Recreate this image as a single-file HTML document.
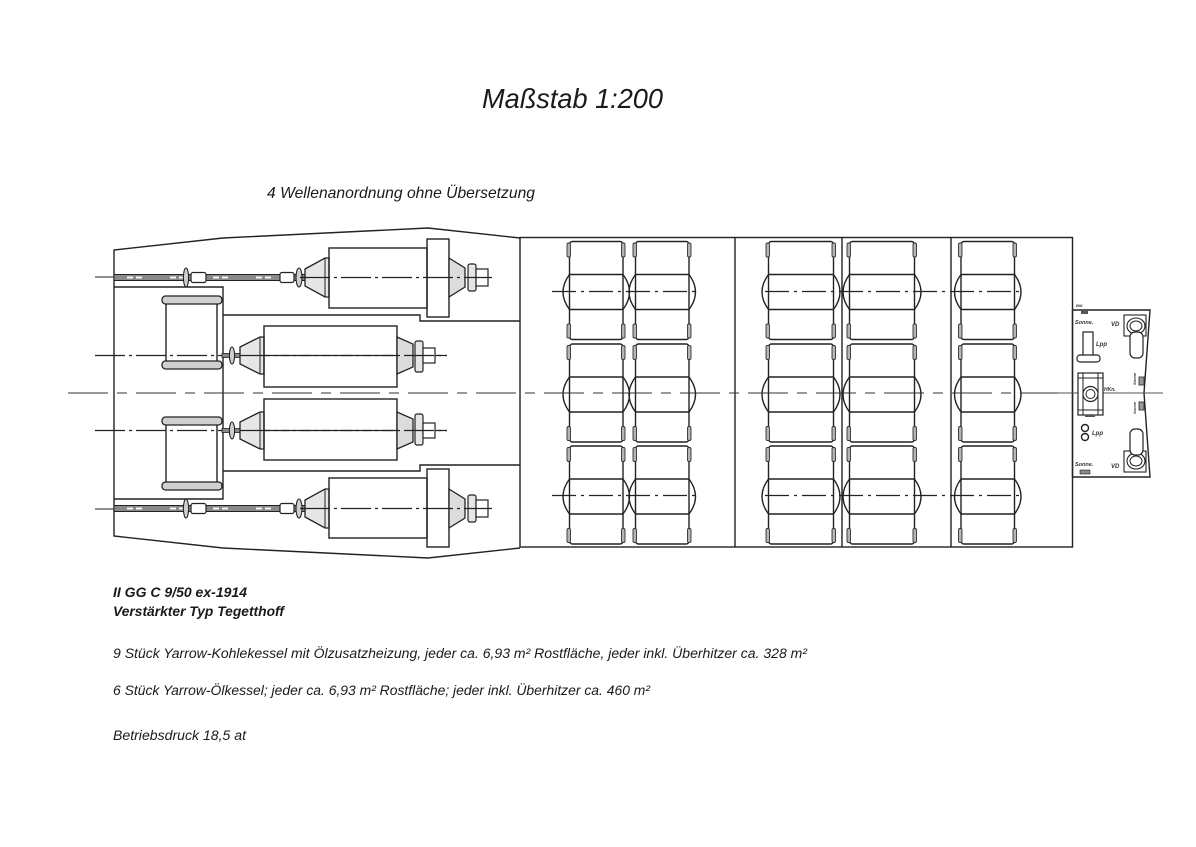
<!DOCTYPE html>
<html>
<head>
<meta charset="utf-8">
<style>
  html,body{margin:0;padding:0;background:#fff;}
  svg{display:block;}
  .ln{fill:none;stroke:#222;stroke-width:1.4;}
  .thin{fill:none;stroke:#222;stroke-width:1;}
  .cl{fill:none;stroke:#333;stroke-width:1.1;stroke-dasharray:40 9 10 9;}
  .sh{fill:none;stroke:#222;stroke-width:1.2;stroke-dasharray:30 4 3 4;}
  .bl{fill:none;stroke:#222;stroke-width:1.3;stroke-dasharray:24 5 3 5;}
  .tab{fill:#b5b5b5;stroke:#333;stroke-width:0.9;}
  .t{font-family:"Liberation Sans",Arial,sans-serif;font-style:italic;fill:#1a1a1a;}
  .tiny{font-family:"Liberation Sans",Arial,sans-serif;font-style:italic;font-weight:bold;fill:#333;}
</style>
</head>
<body>
<svg width="1196" height="847" viewBox="0 0 1196 847" xmlns="http://www.w3.org/2000/svg">
<defs>
  <g id="bn">
    <rect class="ln" x="0" y="0" width="53.5" height="98" rx="3"/>
    <rect class="tab" x="-2.5" y="1.5" width="3.5" height="14" rx="1.5"/>
    <rect class="tab" x="52" y="1.5" width="3.5" height="14" rx="1.5"/>
    <rect class="tab" x="-2.5" y="82.5" width="3.5" height="14" rx="1.5"/>
    <rect class="tab" x="52" y="82.5" width="3.5" height="14" rx="1.5"/>
    <path class="ln" d="M0,33 H53.5 M0,68 H53.5 M0,33 Q-13,50.5 0,68 M53.5,33 Q66.5,50.5 53.5,68"/>
  </g>
  <g id="bw">
    <rect class="ln" x="0" y="0" width="65" height="98" rx="3"/>
    <rect class="tab" x="-2.5" y="1.5" width="3.5" height="14" rx="1.5"/>
    <rect class="tab" x="63.5" y="1.5" width="3.5" height="14" rx="1.5"/>
    <rect class="tab" x="-2.5" y="82.5" width="3.5" height="14" rx="1.5"/>
    <rect class="tab" x="63.5" y="82.5" width="3.5" height="14" rx="1.5"/>
    <path class="ln" d="M0,33 H65 M0,68 H65 M0,33 Q-13,50.5 0,68 M65,33 Q78,50.5 65,68"/>
  </g>
  <g id="hullhalf">
    <path class="ln" d="M114,393 V250 L223,238 L428,228 L520,238"/>
    <path class="ln" d="M114,287 H223 V393"/>
    <path class="ln" d="M223,315 H420 V321 H520"/>
  </g>
  <g id="machhalf">
    <!-- outer shaft -->
    <line class="thin" x1="95" y1="277" x2="114" y2="277"/>
    <rect x="114" y="274.5" width="191" height="6" fill="#8a8a8a" stroke="#222" stroke-width="1"/>
    <line x1="127" y1="277.5" x2="300" y2="277.5" stroke="#fff" stroke-width="1.8" stroke-dasharray="6 3 6 28"/>
    <ellipse cx="186" cy="277.5" rx="2.6" ry="9.5" fill="#cfcfcf" stroke="#222" stroke-width="1.1"/>
    <rect x="191" y="272.5" width="15" height="10" rx="2" fill="#fff" stroke="#222" stroke-width="1.2"/>
    <rect x="280" y="272.5" width="14" height="10" rx="2" fill="#fff" stroke="#222" stroke-width="1.2"/>
    <ellipse cx="299" cy="277.5" rx="3" ry="9.5" fill="#cfcfcf" stroke="#222" stroke-width="1.1"/>
    <polygon points="305,269 325,258 329,258 329,297 325,297 305,286" fill="#e6e6e6" stroke="#222" stroke-width="1.3"/>
    <line class="thin" x1="325" y1="258" x2="325" y2="297"/>
    <rect class="ln" x="329" y="248" width="98" height="60" fill="#fff"/>
    <rect class="ln" x="427" y="239" width="22" height="78" fill="#fff"/>
    <polygon points="449,258 465,268 465,287 449,297" fill="#dcdcdc" stroke="#222" stroke-width="1.3"/>
    <rect x="468" y="264" width="8" height="27" rx="2" fill="#e6e6e6" stroke="#222" stroke-width="1.2"/>
    <rect x="476" y="269" width="12" height="17" fill="#fff" stroke="#222" stroke-width="1.2"/>
    <line class="sh" x1="300" y1="277.5" x2="492" y2="277.5"/>
    <!-- inner shaft -->
    <line class="sh" x1="95" y1="355.5" x2="447" y2="355.5"/>
    <rect x="162" y="296" width="60" height="8" rx="3.5" fill="#d0d0d0" stroke="#222" stroke-width="1.3"/>
    <rect x="162" y="361" width="60" height="8" rx="3.5" fill="#d0d0d0" stroke="#222" stroke-width="1.3"/>
    <line class="ln" x1="166" y1="304" x2="166" y2="361"/>
    <line class="ln" x1="217" y1="304" x2="217" y2="361"/>
    <rect x="222" y="353.5" width="18" height="4" fill="#8a8a8a" stroke="#222" stroke-width="0.8"/>
    <ellipse cx="232" cy="355.5" rx="2.6" ry="8.5" fill="#cfcfcf" stroke="#222" stroke-width="1.1"/>
    <polygon points="240,347 260,337 264,337 264,374 260,374 240,364" fill="#e6e6e6" stroke="#222" stroke-width="1.3"/>
    <line class="thin" x1="260" y1="337" x2="260" y2="374"/>
    <rect class="ln" x="264" y="326" width="133" height="61"/>
    <polygon points="397,337 413,344 413,367 397,374" fill="#dcdcdc" stroke="#222" stroke-width="1.3"/>
    <rect x="415" y="341" width="8" height="31" rx="2" fill="#e6e6e6" stroke="#222" stroke-width="1.2"/>
    <rect x="423" y="348" width="12" height="15" fill="#fff" stroke="#222" stroke-width="1.2"/>
    <line class="sh" x1="240" y1="355.5" x2="447" y2="355.5"/>
  </g>
</defs>

<!-- Titles -->
<text class="t" x="482" y="108" font-size="28" textLength="181" lengthAdjust="spacingAndGlyphs">Maßstab 1:200</text>
<text class="t" x="267" y="198" font-size="16" textLength="268" lengthAdjust="spacingAndGlyphs">4 Wellenanordnung ohne Übersetzung</text>

<!-- Hull & machinery -->
<use href="#hullhalf"/>
<use href="#hullhalf" transform="translate(0,786) scale(1,-1)"/>
<use href="#machhalf"/>
<use href="#machhalf" transform="translate(0,786) scale(1,-1)"/>

<!-- Boiler rooms -->
<rect class="ln" x="520" y="237.5" width="552.5" height="309.5"/>
<line class="ln" x1="735" y1="237.5" x2="735" y2="547"/>
<line class="ln" x1="842" y1="237.5" x2="842" y2="547"/>
<line class="ln" x1="951" y1="237.5" x2="951" y2="547"/>

<use href="#bn" x="569.5" y="241.5"/>
<use href="#bn" x="569.5" y="344"/>
<use href="#bn" x="569.5" y="446"/>
<use href="#bn" x="635.5" y="241.5"/>
<use href="#bn" x="635.5" y="344"/>
<use href="#bn" x="635.5" y="446"/>
<use href="#bw" x="768.5" y="241.5"/>
<use href="#bw" x="768.5" y="344"/>
<use href="#bw" x="768.5" y="446"/>
<use href="#bw" x="849.5" y="241.5"/>
<use href="#bw" x="849.5" y="344"/>
<use href="#bw" x="849.5" y="446"/>
<use href="#bn" x="961" y="241.5"/>
<use href="#bn" x="961" y="344"/>
<use href="#bn" x="961" y="446"/>

<line class="bl" x1="552" y1="291.5" x2="697" y2="291.5"/>
<line class="bl" x1="765" y1="291.5" x2="1022" y2="291.5"/>
<line class="bl" x1="552" y1="495.5" x2="697" y2="495.5"/>
<line class="bl" x1="765" y1="495.5" x2="1022" y2="495.5"/>

<!-- main centerline -->
<line class="cl" x1="68" y1="393" x2="1072" y2="393"/>

<!-- Stern -->
<polygon class="ln" points="1072.5,310 1150,310 1144,393 1150,477 1072.5,477" fill="#fff"/>
<line x1="1058" y1="393" x2="1163" y2="393" stroke="#555" stroke-width="1.1"/>
<rect x="1081" y="311" width="7" height="3" fill="#555"/>
<text class="tiny" x="1076" y="307" font-size="4">Bilt</text>
<text class="tiny" x="1075" y="324" font-size="5.5">Sonne.</text>
<text class="tiny" x="1111" y="326" font-size="6">VD</text>
<rect x="1124" y="315" width="22" height="21" fill="#fff" stroke="#222" stroke-width="1.1"/>
<ellipse cx="1136" cy="326" rx="9" ry="8" fill="none" stroke="#222" stroke-width="1.1"/>
<ellipse cx="1136" cy="326" rx="6" ry="5" fill="none" stroke="#222" stroke-width="1"/>
<rect x="1130" y="332" width="13" height="26" rx="5" fill="#fff" stroke="#222" stroke-width="1.2"/>
<rect x="1083" y="332" width="10" height="24" fill="#fff" stroke="#222" stroke-width="1.2"/>
<rect x="1077" y="355" width="23" height="7" rx="3" fill="#fff" stroke="#222" stroke-width="1.2"/>
<text class="tiny" x="1096" y="346" font-size="6">Lpp</text>
<rect x="1078" y="373" width="25" height="42" fill="#fff" stroke="#222" stroke-width="1.2"/>
<line class="thin" x1="1083" y1="373" x2="1083" y2="415"/>
<line class="thin" x1="1098" y1="373" x2="1098" y2="415"/>
<line class="thin" x1="1078" y1="378" x2="1103" y2="378"/>
<line class="thin" x1="1078" y1="410" x2="1103" y2="410"/>
<circle cx="1090.5" cy="394" r="7.5" fill="#fff" stroke="#222" stroke-width="1.2"/>
<circle cx="1090.5" cy="394" r="4.5" fill="none" stroke="#222" stroke-width="1"/>
<rect x="1085" y="415" width="10" height="2" fill="#555"/>
<text class="tiny" x="1104" y="391" font-size="5">HKn.</text>
<rect x="1139" y="377" width="5" height="8" fill="#999" stroke="#222" stroke-width="0.8"/>
<rect x="1139" y="402" width="5" height="8" fill="#999" stroke="#222" stroke-width="0.8"/>
<text class="tiny" font-size="4" transform="translate(1136,385) rotate(-90)">Sonne</text>
<text class="tiny" font-size="4" transform="translate(1136,414) rotate(-90)">Sonne</text>
<circle cx="1085" cy="428" r="3.5" fill="none" stroke="#222" stroke-width="1.4"/>
<circle cx="1085" cy="437" r="3.5" fill="none" stroke="#222" stroke-width="1.4"/>
<text class="tiny" x="1092" y="435" font-size="6">Lpp</text>
<rect x="1124" y="451" width="22" height="21" fill="#fff" stroke="#222" stroke-width="1.1"/>
<ellipse cx="1136" cy="461" rx="9" ry="8" fill="none" stroke="#222" stroke-width="1.1"/>
<ellipse cx="1136" cy="461" rx="6" ry="5" fill="none" stroke="#222" stroke-width="1"/>
<rect x="1130" y="429" width="13" height="26" rx="5" fill="#fff" stroke="#222" stroke-width="1.2"/>
<text class="tiny" x="1111" y="468" font-size="6">VD</text>
<text class="tiny" x="1075" y="466" font-size="5.5">Sonne.</text>
<rect x="1080" y="470" width="10" height="4" fill="#888" stroke="#222" stroke-width="0.6"/>

<!-- Bottom texts -->
<text class="t" x="113" y="597" font-size="14" font-weight="bold" textLength="134" lengthAdjust="spacingAndGlyphs">II GG C 9/50 ex-1914</text>
<text class="t" x="113" y="616" font-size="14" font-weight="bold" textLength="171" lengthAdjust="spacingAndGlyphs">Verstärkter Typ Tegetthoff</text>
<text class="t" x="113" y="658" font-size="13.5" textLength="694" lengthAdjust="spacingAndGlyphs">9 Stück Yarrow-Kohlekessel mit Ölzusatzheizung, jeder ca. 6,93 m² Rostfläche, jeder inkl. Überhitzer ca. 328 m²</text>
<text class="t" x="113" y="695" font-size="13.5" textLength="537" lengthAdjust="spacingAndGlyphs">6 Stück Yarrow-Ölkessel; jeder ca. 6,93 m² Rostfläche; jeder inkl. Überhitzer ca. 460 m²</text>
<text class="t" x="113" y="740" font-size="13.5" textLength="133" lengthAdjust="spacingAndGlyphs">Betriebsdruck 18,5 at</text>
</svg>
</body>
</html>
